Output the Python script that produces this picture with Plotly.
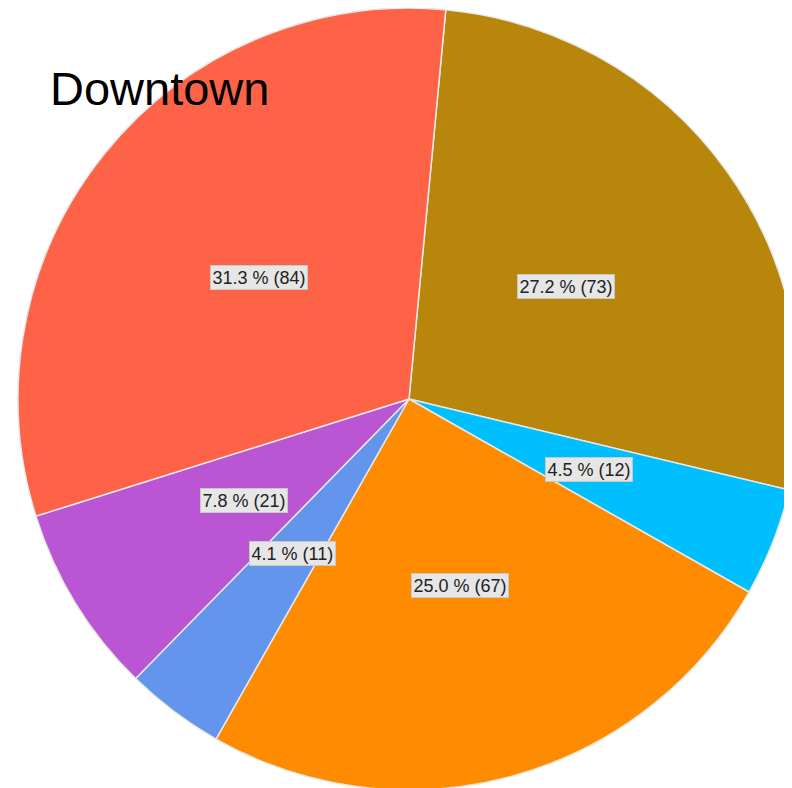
import math
import plotly.graph_objects as go

labels = ["B", "C", "D", "E", "F", "A"]
values = [73, 12, 67, 11, 21, 84]
colors = ["#B8860B", "#00BFFF", "#FF8C00", "#6495ED", "#BA55D3", "#FF6347"]
title_text = "Downtown"

W, H = 792, 788
# pie placement in figure pixels (page adds an 8px body margin)
left_px, right_px = 10, 792
top_px = 0
r_px = (right_px - left_px) / 2
cx_px = (left_px + right_px) / 2
cy_px = top_px + r_px
dom_x = [left_px / W, right_px / W]
dom_y = [1 - (cy_px + r_px) / H, 1 - top_px / H]
rotation = 5.4

fig = go.Figure(go.Pie(
    labels=labels, values=values, sort=False, direction="clockwise",
    rotation=rotation, textinfo="none", hoverinfo="skip",
    marker=dict(colors=colors, line=dict(color="#e8e8e8", width=1.5)),
    domain=dict(x=dom_x, y=dom_y), showlegend=False,
))

total = sum(values)
annotations = []
start = rotation
for v in values:
    ang = start + v / total * 360 / 2
    start += v / total * 360
    rad = math.radians(ang)
    x = cx_px + 0.495 * r_px * math.sin(rad)
    y = cy_px - 0.495 * r_px * math.cos(rad)
    annotations.append(dict(
        x=x / W, y=1 - y / H, xref="paper", yref="paper", showarrow=False,
        xanchor="center", yanchor="middle",
        text=f"{v / total * 100:.1f} % ({v})",
        font=dict(size=18, color="#222222", family="Liberation Sans, Arial"),
        bgcolor="#e6e6e6", bordercolor="#c8c8c8", borderwidth=1, borderpad=1.5,
    ))

annotations.append(dict(
    x=40 / W, y=1 - 80.5 / H, xref="paper", yref="paper", showarrow=False,
    xanchor="left", yanchor="middle", text=title_text,
    font=dict(size=47, color="black", family="Liberation Sans, Arial"),
))

fig.update_layout(
    width=W, height=H, margin=dict(l=0, r=0, t=0, b=0),
    paper_bgcolor="white", plot_bgcolor="white",
    annotations=annotations,
)
fig.write_html("out.html")
